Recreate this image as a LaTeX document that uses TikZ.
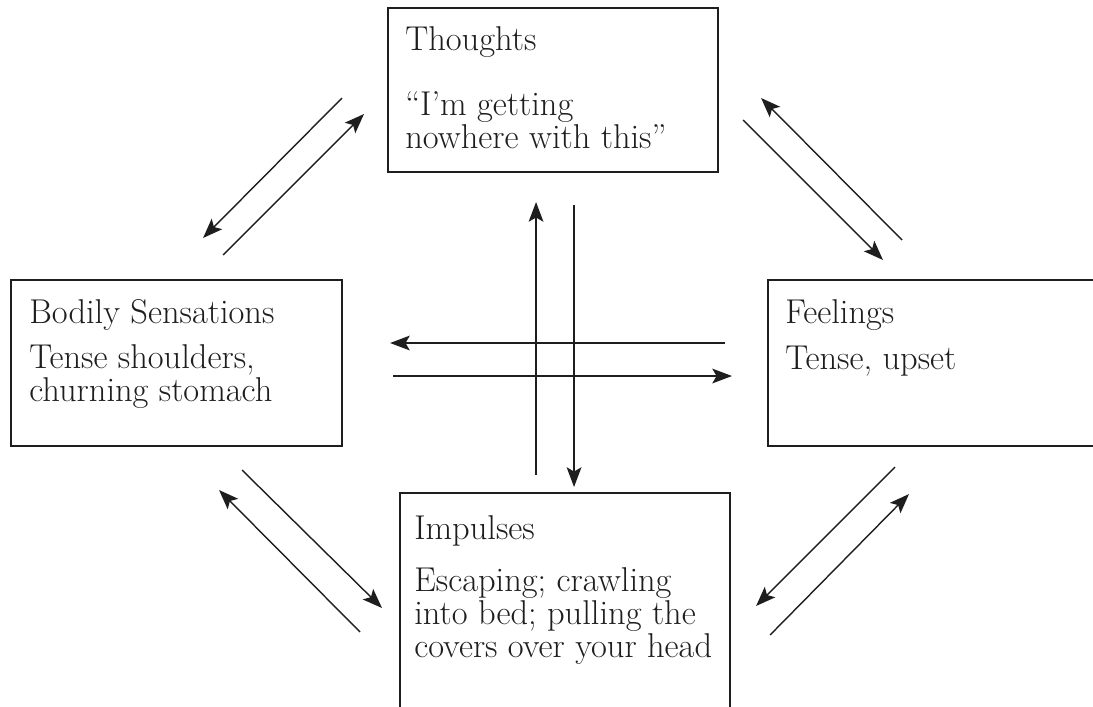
\documentclass[tikz,border=0pt]{standalone}
\usetikzlibrary{arrows.meta}

\definecolor{inkgray}{RGB}{30,30,30}

\tikzset{
  frame/.style={draw=inkgray, line width=1.4pt, inner sep=0pt, outer sep=0pt, anchor=north west},
  txt/.style={anchor=north west, align=left, inner sep=0pt, text=inkgray,
    font=\fontsize{24.5}{23.5}\selectfont, execute at begin node={\rule{0pt}{16pt}}},
  arr/.style={draw=inkgray, line width=1pt, -{Stealth[length=14pt,width=10.5pt,inset=3pt]}}
}

\begin{document}
\begin{tikzpicture}[x=0.025cm,y=-0.025cm]
    \clip (0,0) rectangle (1093,707);

    % the four boxes
    \node[frame, minimum width=8.25cm, minimum height=4.1cm] (thoughts) at (388,8) {};
    \node[frame, minimum width=8.275cm, minimum height=4.15cm] (bodily) at (11,280) {};
    \node[frame, minimum width=9.05cm, minimum height=4.15cm] (feelings) at (768,280) {};
    \node[frame, minimum width=8.25cm, minimum height=6.7cm] (impulses) at (400,493) {};

    \node[txt] (thoughtsText) at ([shift={(17,18.5)}]thoughts.north west)
      {Thoughts\\[22.5pt]“I’m getting\\nowhere with this”};
    \node[txt] (bodilyText) at ([shift={(18,19.5)}]bodily.north west)
      {Bodily Sensations\\[8.5pt]Tense shoulders,\\churning stomach};
    \node[txt] (feelingsText) at ([shift={(17,19.5)}]feelings.north west)
      {Feelings\\[9pt]Tense, upset};
    \node[txt] (impulsesText) at ([shift={(14,22.5)}]impulses.north west)
      {Impulses\\[13.5pt]Escaping; crawling\\into bed; pulling the\\covers over your head};

    % up and down through the middle
    \draw[arr] ([shift={(-29,-18)}]impulses.north) -- ([shift={(-17,30)}]thoughts.south);
    \draw[arr] ([shift={(21,33)}]thoughts.south) -- ([shift={(9,-6)}]impulses.north);
    % across
    \draw[arr] ([shift={(-43,-20)}]feelings.west) -- ([shift={(48,-20)}]bodily.east);
    \draw[arr] ([shift={(51,13)}]bodily.east) -- ([shift={(-36,13)}]feelings.west);

    % corner pairs
    \draw[arr] ([shift={(-46,8)}]thoughts.west) -- ([shift={(26.5,-42)}]bodily.north);
    \draw[arr] ([shift={(46.5,-25)}]bodily.north) -- ([shift={(-24,24)}]thoughts.west);
    \draw[arr] ([shift={(134,-40)}]feelings.north west) -- ([shift={(43,8)}]thoughts.east);
    \draw[arr] ([shift={(25,30)}]thoughts.east) -- ([shift={(115,-20)}]feelings.north west);
    \draw[arr] ([shift={(65.5,24)}]bodily.south) -- ([shift={(-18,115)}]impulses.north west);
    \draw[arr] ([shift={(-40,139)}]impulses.north west) -- ([shift={(42.5,44)}]bodily.south);
    \draw[arr] ([shift={(127,21)}]feelings.south west) -- ([shift={(26,113)}]impulses.north east);
    \draw[arr] ([shift={(40,142)}]impulses.north east) -- ([shift={(141,48)}]feelings.south west);
\end{tikzpicture}
\end{document}
